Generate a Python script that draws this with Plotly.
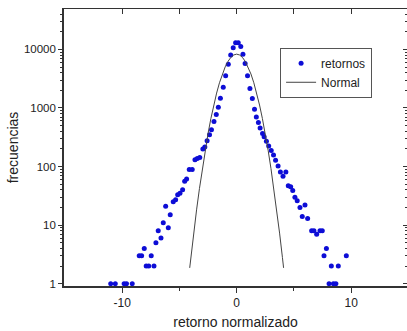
import plotly.graph_objects as go

# Empirical histogram (retornos)
ret_x = [-11.0, -10.6, -9.83, -9.62, -9.12, -8.51, -8.30, -8.07, -7.90, -7.68,
         -7.46, -7.22, -7.05, -6.85, -6.61, -6.41, -6.20, -5.97, -5.80, -5.54,
         -5.33, -5.15, -4.95, -4.72, -4.54, -4.37, -4.14, -3.88, -3.64, -3.44,
         -3.22, -2.95, -2.78, -2.58, -2.37, -2.20, -1.98, -1.78, -1.60, -1.42,
         -1.17, -0.96, -0.73, -0.52, -0.30, -0.09, 0.14, 0.36, 0.55, 0.74,
         0.95, 1.16, 1.37, 1.56, 1.72, 1.90, 2.05, 2.26, 2.40, 2.60,
         2.80, 3.02, 3.22, 3.40, 3.62, 3.82, 4.05, 4.30, 4.51, 4.72,
         4.90, 5.09, 5.29, 5.53, 5.73, 5.97, 6.20, 6.55, 6.75, 6.99,
         7.28, 7.48, 7.63, 7.84, 8.07, 8.27, 8.45, 8.67, 8.88, 9.58]
ret_y = [1, 1, 1, 1, 1, 3, 3, 4, 2, 2,
         3, 2, 5, 8, 6, 11, 21, 9, 15, 25,
         27, 33, 35, 40, 56, 61, 89, 89, 131, 137,
         143, 200, 215, 276, 350, 425, 590, 775, 1030, 1470,
         2250, 3560, 5600, 8000, 10650, 12970, 12970, 11200, 8300, 5770,
         3550, 2150, 1450, 950, 700, 565, 455, 367, 321, 271,
         225, 187, 158, 128, 102, 81, 68, 81, 47, 45,
         39, 30, 26, 20, 14, 22, 13, 8, 8, 7,
         8, 8, 3, 4, 1, 2, 1, 1, 2, 3]

# Normal reference curve
norm_x = [-4.1, -4.0, -3.75, -3.5, -3.25, -3.0, -2.75, -2.5, -2.25, -2.0, -1.75,
          -1.5, -1.25, -1.0, -0.75, -0.5, -0.25, 0.0, 0.25, 0.5, 0.75, 1.0,
          1.25, 1.5, 1.75, 2.0, 2.25, 2.5, 2.75, 3.0, 3.25, 3.5, 3.75, 4.0, 4.1]
norm_y = [1.86, 2.78, 7.3, 18.2, 42, 92, 189, 365, 660, 1123, 1795,
          2695, 3800, 5034, 6265, 7325, 8044, 8300, 8044, 7325, 6265, 5034,
          3800, 2695, 1795, 1123, 660, 365, 189, 92, 42, 18.2, 7.3, 2.78, 1.86]

y_ticks = [1, 10, 100, 1000, 10000]
y_ticktext = ["1", "10", "100", "1000", "10000"]
x_ticks = [-10, 0, 10]
x_minor = [-5, 5]
x_top_ticks = [-10, -5, 0, 5, 10]
y_minor = [m * d for d in (1, 10, 100, 1000, 10000) for m in range(2, 10)]

XR = [-15.08, 14.88]
YR = [-0.04, 4.69]
FONT = "Arial, Liberation Sans, sans-serif"
AX = "#333333"

fig = go.Figure()
fig.add_trace(go.Scatter(
    x=ret_x, y=ret_y, mode="markers", name="retornos",
    marker=dict(color="#0d0dd6", size=5, line=dict(width=0)),
    xaxis="x", yaxis="y"))
fig.add_trace(go.Scatter(
    x=norm_x, y=norm_y, mode="lines", name="Normal",
    line=dict(color="#444444", width=1),
    xaxis="x2", yaxis="y2"))

fig.update_layout(
    width=407, height=331,
    margin=dict(l=64, r=0, t=9, b=45),
    paper_bgcolor="white", plot_bgcolor="white",
    font=dict(family=FONT, color="#222222", size=11.5),
    xaxis=dict(
        range=XR, showgrid=False, zeroline=False,
        showline=True, linecolor=AX, linewidth=1.6,
        ticks="outside", ticklen=5, tickwidth=1.2, tickcolor=AX,
        tickvals=x_ticks, ticktext=[str(v) for v in x_ticks],
        minor=dict(tickvals=x_minor, ticks="outside", ticklen=3, tickcolor=AX),
        title=dict(text="retorno normalizado", font=dict(size=14), standoff=8),
        tickfont=dict(size=12),
    ),
    yaxis=dict(
        type="log", range=YR, showgrid=False, zeroline=False,
        showline=True, linecolor=AX, linewidth=1.6,
        ticks="outside", ticklen=4, tickwidth=1.2, tickcolor=AX,
        tickvals=y_ticks, ticktext=y_ticktext,
        minor=dict(tickvals=y_minor, ticks="outside", ticklen=2, tickcolor=AX),
        title=dict(text="frecuencias", font=dict(size=14), standoff=2),
        tickfont=dict(size=11.5),
    ),
    xaxis2=dict(
        overlaying="x", side="top", range=XR, showgrid=False, zeroline=False,
        showline=True, linecolor=AX, linewidth=1,
        ticks="inside", ticklen=5, tickcolor=AX, tickwidth=1,
        tickvals=x_top_ticks, showticklabels=False,
    ),
    yaxis2=dict(
        overlaying="y", side="right", type="log", range=YR,
        showgrid=False, zeroline=False, showline=False,
        ticks="inside", ticklen=4, tickcolor=AX, tickwidth=1,
        tickvals=y_ticks, showticklabels=False,
        minor=dict(tickvals=y_minor, ticks="inside", ticklen=2, tickcolor=AX),
    ),
    legend=dict(
        x=0.63, y=0.86, xanchor="left", yanchor="top",
        bgcolor="white", bordercolor="#555555", borderwidth=1,
        font=dict(size=12, color="#222222"), itemwidth=30,
        tracegroupgap=0,
    ),
    showlegend=True,
)

fig.write_html("out.html")
